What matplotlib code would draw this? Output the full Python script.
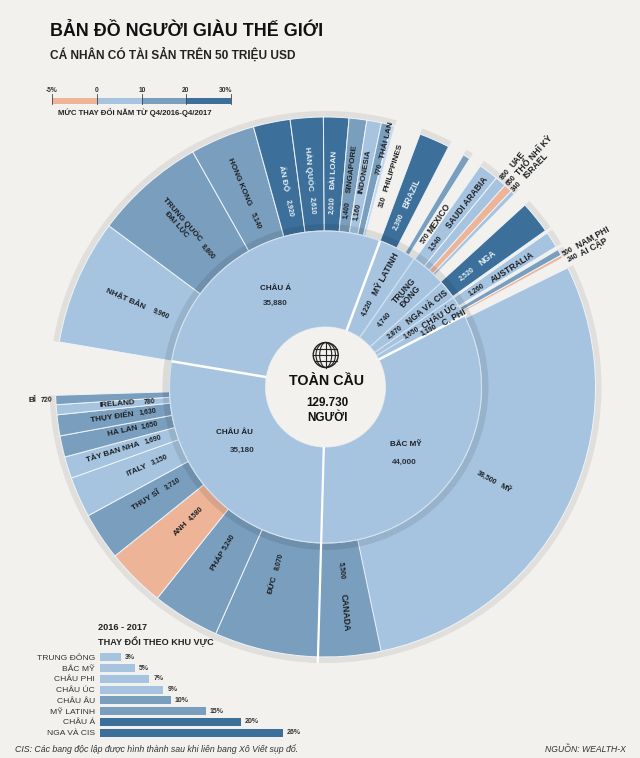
import numpy as np
import matplotlib
matplotlib.use("Agg")
import matplotlib.pyplot as plt
from matplotlib.patches import Wedge, Circle, Ellipse, Rectangle

plt.rcParams['font.family'] = ['Liberation Sans', 'DejaVu Sans']

BG = '#f2f1ee'
LIGHT = '#a6c4e0'
PALE = '#c5daee'
MID = '#7a9fbe'
DARK = '#3c709b'
ORANGE = '#edb497'
INK = '#1d1f22'

TOTAL = 129730
region_names = ['MỸ LATINH', 'TRUNG\nĐÔNG', 'NGA VÀ CIS', 'CHÂU ÚC', 'C. PHI', 'BẮC MỸ', 'CHÂU ÂU', 'CHÂU Á']
region_values = [4220, 4740, 2870, 1650, 1190, 44000, 35180, 35880]
region_bounds = [69.5, 55.3, 42, 35, 31.5, 27.3, -91.6, -189.5, -290.5]
thick_bounds = [69.5, 27.3, -189.5]

asia_names = ['NHẬT BẢN', 'TRUNG QUỐC\nĐẠI LỤC', 'HONG KONG', 'ẤN ĐỘ', 'HÀN QUỐC', 'ĐÀI LOAN', 'SINGAPORE', 'INDONESIA', 'THÁI LAN', 'PHILIPPINES']
asia_values = [9960, 8800, 5140, 2920, 2610, 2010, 1400, 1160, 770, 310]
asia_colors = [LIGHT, MID, MID, DARK, DARK, DARK, MID, LIGHT, MID, PALE]
asia_text = ['9,960', '8,800', '5,140', '2,920', '2,610', '2,010', '1,400', '1,160', '770', '310']

europe_names = ['ĐỨC', 'PHÁP', 'ANH', 'THỤY SĨ', 'ITALY', 'TÂY BAN NHA', 'HÀ LAN', 'THỤY ĐIỂN', 'IRELAND', 'BỈ']
europe_values = [8070, 5240, 4580, 3710, 3150, 1690, 1650, 1630, 780, 720]
europe_colors = [MID, MID, ORANGE, MID, LIGHT, LIGHT, MID, MID, LIGHT, MID]
europe_text = ['8,070', '5,240', '4,580', '3,710', '3,150', '1,690', '1,650', '1,630', '780', '720']

america_names = ['MỸ', 'CANADA']
america_values = [38500, 5500]
america_colors = [LIGHT, MID]
america_text = ['38,500', '5,500']

other_groups = [
    (69.5, ['BRAZIL'], [2390], [DARK], ['2,390']),
    (59.3, ['MEXICO'], [570], [MID], ['570']),
    (55.0, ['SAUDI ARABIA', 'UAE', 'THỔ NHĨ KỲ', 'ISRAEL'], [1540, 860, 650, 340], [LIGHT, LIGHT, ORANGE, LIGHT], ['1,540', '860', '650', '340']),
    (42.4, ['NGA'], [2520], [DARK], ['2,520']),
    (34.8, ['AUSTRALIA'], [1260], [LIGHT], ['1,260']),
    (30.6, ['NAM PHI', 'AI CẬP'], [500, 240], [MID, ORANGE], ['500', '240']),
]

label_layout = {
    'NHẬT BẢN': (156.2, 219, 180), 'TRUNG QUỐC\nĐẠI LỤC': (131.2, 221, 179), 'HONG KONG': (112.8, 222, 180),
    'ẤN ĐỘ': (101.4, 213, 182), 'HÀN QUỐC': (94.2, 219, 182), 'ĐÀI LOAN': (87.7, 217, 182),
    'SINGAPORE': (83, 220, 178), 'INDONESIA': (79.7, 219, 178), 'THÁI LAN': (76, 254, 225),
    'PHILIPPINES': (72.8, 230, 194),
    'BRAZIL': (66, 212, 181), 'MEXICO': (56, 203, 179), 'SAUDI ARABIA': (52.5, 232, 181),
    'UAE': (49.8, 298, 278), 'THỔ NHĨ KỲ': (48, 312, 278), 'ISRAEL': (46.4, 305, 277),
    'NGA': (38.5, 207, 181), 'AUSTRALIA': (32.7, 222, 180),
    'NAM PHI': (29.2, 306, 278), 'AI CẬP': (27.6, 302, 279),
    'MỸ': (-29.5, 207, 185), 'CANADA': (-85, 226, 184),
    'ĐỨC': (255.2, 206, 181), 'PHÁP': (238.2, 204, 183), 'ANH': (224.5, 203, 181), 'THỤY SĨ': (212.3, 212, 181),
    'ITALY': (203.8, 206, 181), 'TÂY BAN NHA': (197.2, 222, 180), 'HÀ LAN': (192.4, 208, 180.5),
    'THỤY ĐIỂN': (188, 215, 179), 'IRELAND': (184.8, 209, 177), 'BỈ': (182.7, 293, 279),
}
white_labels = ['ẤN ĐỘ', 'HÀN QUỐC', 'ĐÀI LOAN', 'BRAZIL', 'NGA']
region_label_layout = {
    'MỸ LATINH': (62, 128, 89, '4,220'), 'TRUNG\nĐÔNG': (48.5, 124, 90, '4,740'),
    'NGA VÀ CIS': (38.3, 129, 88, '2,870'), 'CHÂU ÚC': (32, 134, 101, '1,650'), 'C. PHI': (28.5, 146, 118, '1,190'),
}
large_labels = ['BRAZIL', 'MEXICO', 'SAUDI ARABIA', 'UAE', 'THỔ NHĨ KỲ', 'ISRAEL', 'NGA', 'AUSTRALIA', 'NAM PHI',
                'AI CẬP', 'CANADA', 'MỸ LATINH', 'TRUNG\nĐÔNG', 'NGA VÀ CIS', 'CHÂU ÚC', 'C. PHI']

legend_ticks = ['-5%', '0', '10', '20', '30%']
legend_colors = [ORANGE, LIGHT, MID, DARK]

bar_cats = ['TRUNG ĐÔNG', 'BẮC MỸ', 'CHÂU PHI', 'CHÂU ÚC', 'CHÂU ÂU', 'MỸ LATINH', 'CHÂU Á', 'NGA VÀ CIS']
bar_vals = [3, 5, 7, 9, 10, 15, 20, 26]
bar_colors = [LIGHT, LIGHT, LIGHT, LIGHT, MID, MID, DARK, DARK]

W, H = 640, 758
fig = plt.figure(figsize=(W / 100, H / 100), dpi=100, facecolor=BG)
ax = fig.add_axes([0, 0, 1, 1])
ax.set_xlim(0, W)
ax.set_ylim(H, 0)
ax.axis('off')

ax2 = fig.add_axes([0, 0, 1, 1], zorder=1)
ax2.set_xlim(0, W)
ax2.set_ylim(0, H)
ax2.axis('off')
ax2.patch.set_alpha(0)

CX, CY = 325.5, H - 387
R0, R1, RS, R2, R3 = 60, 156, 163, 270, 276
DEG = 360 / TOTAL


def polar(a, r):
    t = np.deg2rad(a)
    return CX + r * np.cos(t), CY + r * np.sin(t)


def draw_run(start, values, colors, scale=DEG, z=3):
    a = start
    for v, c in zip(values, colors):
        b = a - v * scale
        ax2.add_patch(Wedge((CX, CY), R3, b, a, width=R3 - R2, fc='#e1dfdb', ec='none', zorder=2))
        ax2.add_patch(Wedge((CX, CY), R2, b, a, width=R2 - R1, fc=c, ec='#eef3f8', lw=0.7, zorder=z))
        a = b


draw_run(26.2, america_values[:1], america_colors[:1])
draw_run(-78.1, america_values[1:], america_colors[1:])
draw_run(170.4, asia_values, asia_colors, scale=(170.4 - 75.1) / sum(asia_values))
draw_run(268.4, europe_values, europe_colors)
for g in other_groups:
    draw_run(g[0], g[2], g[3])

ax2.add_patch(Wedge((CX, CY), RS, 0, 360, width=RS - R1, fc='black', alpha=0.09, ec='none', zorder=4))

for a, b in zip(region_bounds[:-1], region_bounds[1:]):
    ax2.add_patch(Wedge((CX, CY), R1, b, a, width=R1 - R0, fc=LIGHT, ec='#d3e2f0', lw=0.8, zorder=5))
for a in thick_bounds:
    x0, y0 = polar(a, R0)
    x1, y1 = polar(a, R1 + (3 if a == 27.3 else 0))
    ax2.plot([x0, x1], [y0, y1], color='white', lw=1.8, zorder=6, solid_capstyle='butt')
x0, y0 = polar(-91.6, R0)
x1, y1 = polar(-91.6, R3)
ax2.plot([x0, x1], [y0, y1], color='white', lw=1.6, zorder=6, solid_capstyle='butt')
ax2.add_patch(Circle((CX, CY), R0, fc=BG, ec='none', zorder=7))

GX, GY = 325.7, H - 355
ax2.add_patch(Circle((GX, GY), 12.5, fc='none', ec='#222', lw=1.0, zorder=8))
for w in (12, 25 * 0.78):
    ax2.add_patch(Ellipse((GX, GY), w, 25, fc='none', ec='#222', lw=0.8, zorder=8))
ax2.plot([GX, GX], [GY - 12.5, GY + 12.5], color='#222', lw=0.8, zorder=8)
for dy in (-6, 0, 6):
    hw = np.sqrt(12.5 ** 2 - dy ** 2)
    ax2.plot([GX - hw, GX + hw], [GY + dy, GY + dy], color='#222', lw=0.8, zorder=8)

ax2.text(326.7, H - 381, 'TOÀN CẦU', ha='center', va='center', fontsize=10.3, fontweight='bold', color='#111', zorder=9)
ax2.text(327, H - 403.5, '129.730', ha='center', va='center', fontsize=8.4, fontweight='bold', color='#111', zorder=9)
ax2.text(327, H - 418, 'NGƯỜI', ha='center', va='center', fontsize=8.4, fontweight='bold', color='#111', zorder=9)


def rot_for(a):
    a = (a + 180) % 360 - 180
    if a > 90 or a < -90:
        return a - 180 if a > 0 else a + 180
    return a


def label(name, value, ang, rn, rv, col=INK):
    fs = 6.2 if name in large_labels else 5.9
    rot = rot_for(ang)
    x, y = polar(ang, rn)
    ax2.text(x, y, name, rotation=rot, rotation_mode='anchor', ha='center', va='center', fontsize=fs,
             fontweight='bold', color=col, zorder=9, linespacing=0.95)
    x, y = polar(ang, rv)
    ax2.text(x, y, value, rotation=rot, rotation_mode='anchor', ha='center', va='center', fontsize=5.0,
             fontweight='bold', color=col, zorder=9)


for names, texts in [(asia_names, asia_text), (europe_names, europe_text), (america_names, america_text)]:
    for n, t in zip(names, texts):
        a, rn, rv = label_layout[n]
        label(n, t, a, rn, rv, '#e8f0f8' if n in white_labels else INK)
for g in other_groups:
    for n, t in zip(g[1], g[4]):
        a, rn, rv = label_layout[n]
        label(n, t, a, rn, rv, '#e8f0f8' if n in white_labels else INK)

for n, (a, rn, rv, t) in region_label_layout.items():
    label(n, t, a, rn, rv)

for n, t, xy, xyv in [('CHÂU Á', '35,880', (276, 289), (275, 303)),
                      ('CHÂU ÂU', '35,180', (234, 433), (242, 450)),
                      ('BẮC MỸ', '44,000', (406, 445), (404, 462))]:
    ax2.text(xy[0], H - xy[1], n, ha='center', va='center', fontsize=5.8, fontweight='bold', color=INK, zorder=9)
    ax2.text(xyv[0], H - xyv[1], t, ha='center', va='center', fontsize=5.8, fontweight='bold', color='#2b2f36', zorder=9)

ax.text(49.5, 31, 'BẢN ĐỒ NGƯỜI GIÀU THẾ GIỚI', ha='left', va='center', fontsize=12.9, fontweight='bold', color='#111')
ax.text(49.5, 55, 'CÁ NHÂN CÓ TÀI SẢN TRÊN 50 TRIỆU USD', ha='left', va='center', fontsize=8.6, fontweight='bold', color='#222')

lx = [52, 97, 142, 186, 231]
for i, c in enumerate(legend_colors):
    ax.add_patch(Rectangle((lx[i], 98), lx[i + 1] - lx[i], 6, fc=c, ec='none'))
for x, t in zip(lx, legend_ticks):
    ax.plot([x, x], [94, 104], color='#444', lw=0.6)
    ax.text(x if t != '30%' else 226, 90, t, ha='center', va='center', fontsize=4.8, fontweight='bold', color='#333')
ax.text(58, 113, 'MỨC THAY ĐỔI NĂM TỪ Q4/2016-Q4/2017', ha='left', va='center', fontsize=5.6, fontweight='bold', color='#222')

top, step = 657.3, 10.77
bax = fig.add_axes([100 / W, 1 - (top + 7.5 * step) / H, 211.5 / W, 8 * step / H], zorder=3)
bax.patch.set_alpha(0)
y = np.arange(len(bar_cats))
bax.barh(y, bar_vals, height=0.74, color=bar_colors)
bax.set_xlim(0, 30)
bax.set_ylim(len(bar_cats) - 0.5, -0.5)
bax.set_yticks(y, bar_cats, fontsize=6.1, color='#333')
bax.tick_params(axis='y', length=0, pad=3.5)
bax.set_xticks([])
for s in bax.spines.values():
    s.set_visible(False)
for yy, v in zip(y, bar_vals):
    bax.text(v + 0.55, yy, f'{v}%', ha='left', va='center', fontsize=5, fontweight='bold', color='#333')

ax.text(98, 628, '2016 - 2017', ha='left', va='center', fontsize=6.6, fontweight='bold', color='#222')
ax.text(98, 642, 'THAY ĐỔI THEO KHU VỰC', ha='left', va='center', fontsize=6.6, fontweight='bold', color='#222')
ax.text(15, 749, 'CIS: Các bang độc lập được hình thành sau khi liên bang Xô Viết sụp đổ.', ha='left', va='center',
        fontsize=6.3, style='italic', color='#333')
ax.text(626, 749, 'NGUỒN: WEALTH-X', ha='right', va='center', fontsize=6.2, style='italic', color='#333')

fig.savefig('out.png', dpi=100, facecolor=BG)
